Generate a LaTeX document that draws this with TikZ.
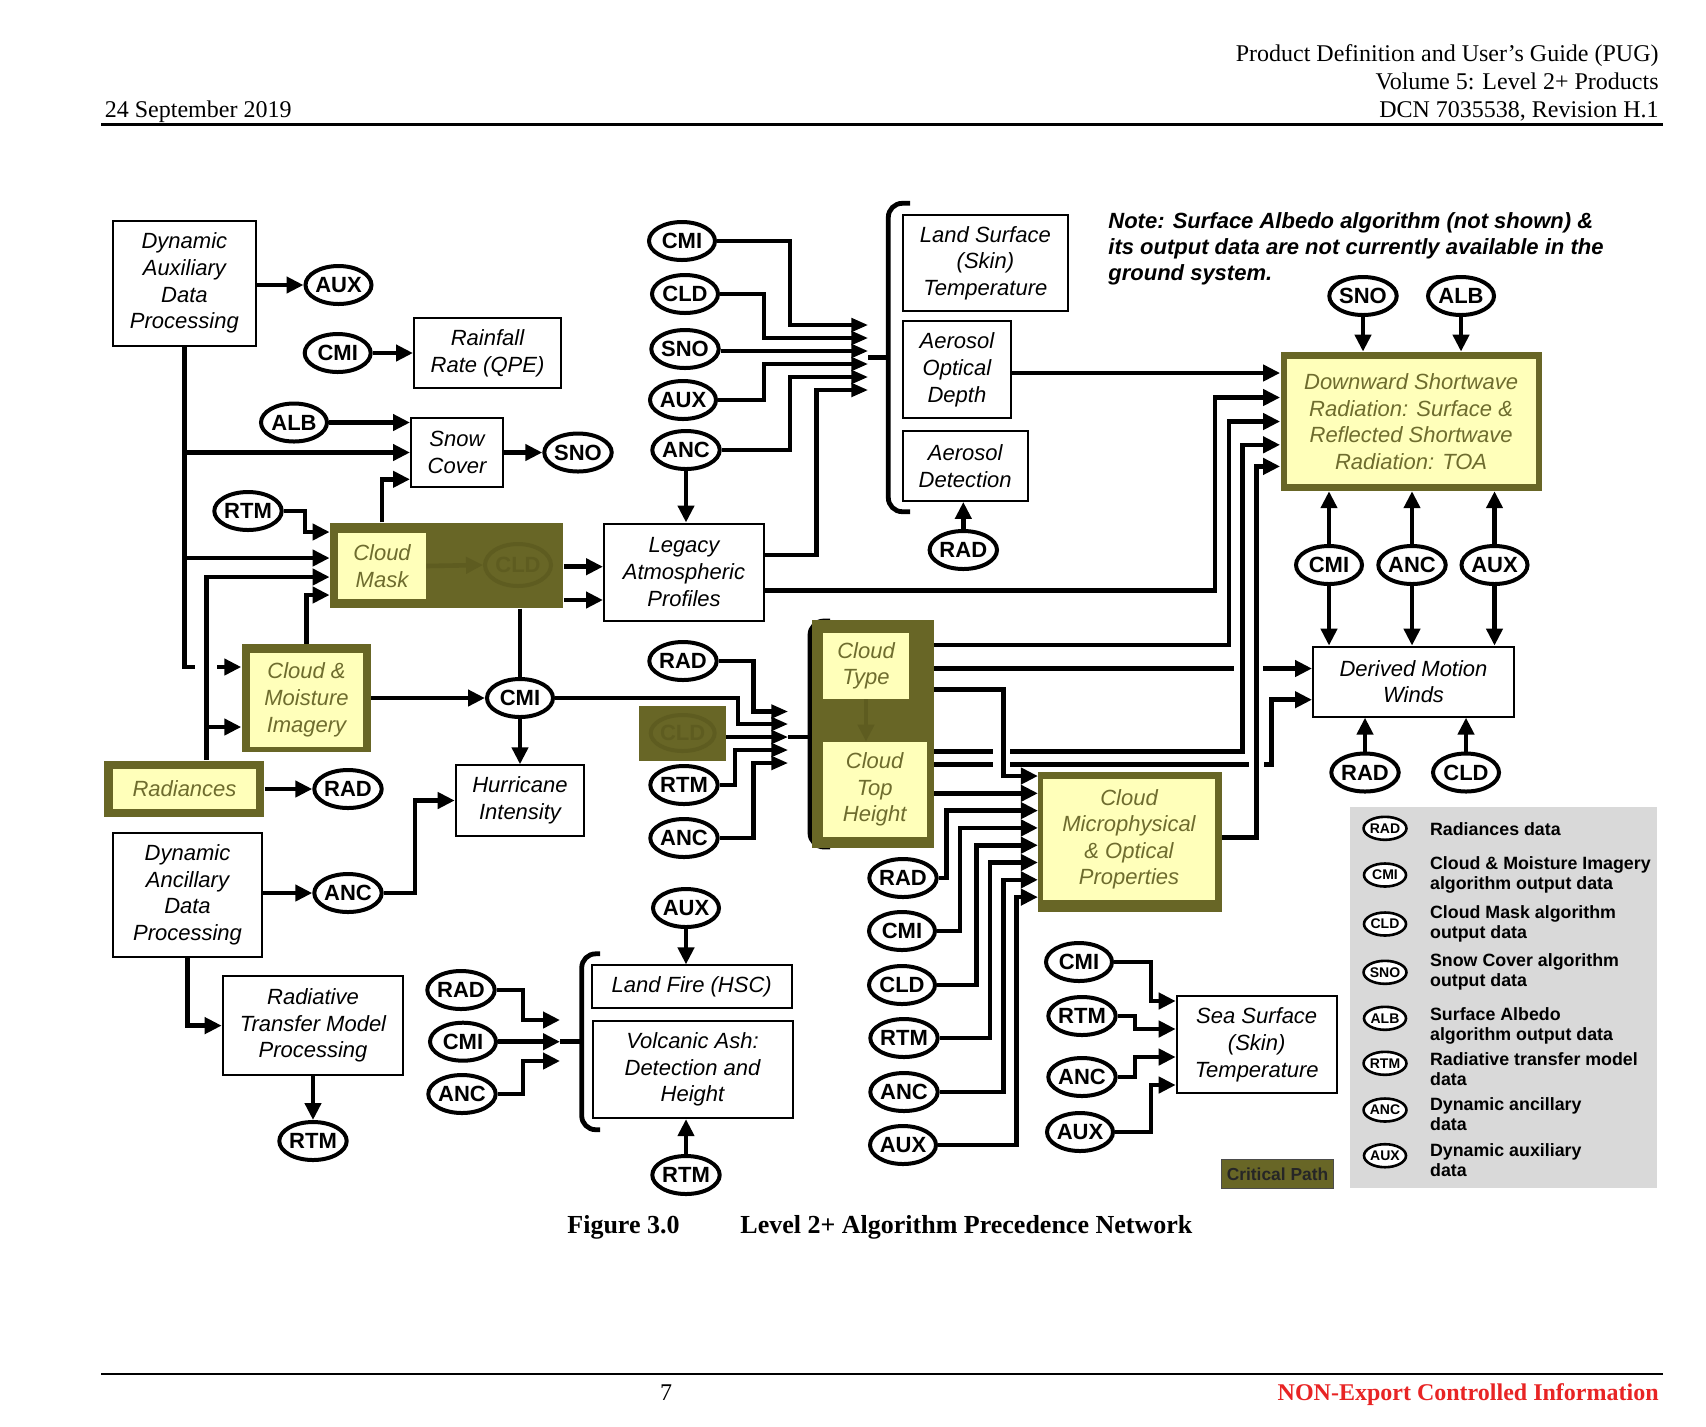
\documentclass[tikz,border=0pt]{standalone}
\usepackage{fontspec}
\setmainfont{Liberation Serif}
\setsansfont{Liberation Sans}
\usetikzlibrary{arrows.meta,positioning,calc,shapes.geometric}
\definecolor{olv}{RGB}{104,102,38}
\definecolor{olvtxt}{RGB}{110,108,46}
\definecolor{pale}{RGB}{255,255,186}
\definecolor{gho}{RGB}{94,92,32}
\definecolor{lgray}{RGB}{217,217,217}
\definecolor{nored}{RGB}{232,36,36}
\newcommand{\bxf}{\fontsize{11}{13.3}\selectfont\sffamily\itshape}
\newcommand{\dtf}{\fontsize{11}{12}\selectfont\sffamily\bfseries}
\newcommand{\lgf}{\fontsize{8.9}{10}\selectfont\sffamily\bfseries}
\tikzset{box/.style={draw,line width=1pt,fill=white,align=center,inner sep=0pt,font=\bxf},
  crit/.style={fill=olv,inner sep=0pt},
  hot/.style={fill=pale,align=center,inner sep=0pt,font=\bxf,text=olvtxt},
  dat/.style={ellipse,draw,line width=2pt,fill=white,inner sep=0pt,minimum width=33pt,minimum height=19pt,font=\dtf},
  ghst/.style={ellipse,draw=gho,text=gho,line width=2pt,inner sep=0pt,font=\dtf},
  ln/.style={line width=2.3pt},
  arr/.style={ln,-{Triangle[length=8.5pt,width=8pt]}},
  arrs/.style={ln,-{Triangle[length=8.5pt,width=6.6pt]}},
  garr/.style={ln,draw=gho,-{Triangle[length=8.5pt,width=8pt]}},
  brk/.style={line width=2.4pt,rounded corners=7pt},
  lgkey/.style={ellipse,draw,line width=1.3pt,fill=white,inner sep=0pt,minimum width=21pt,minimum height=11.5pt,font=\fontsize{7}{7}\selectfont\sffamily\bfseries},
  lgtxt/.style={anchor=west,align=left,inner sep=0pt,font=\lgf},
  hdr/.style={inner sep=0pt,font=\fontsize{12}{14}\selectfont}}
\begin{document}
\begin{tikzpicture}[x=0.5pt,y=-0.5pt]
\useasboundingbox (0,0) rectangle (1706,1426);
\node[hdr,anchor=base east] (h1) at (1659,61){Product Definition and User’s Guide (PUG)};
\node[hdr,anchor=base east] (h2) at (1659,89){Volume 5: Level 2+ Products};
\node[hdr,anchor=base east] (h3) at (1659,117.5){DCN 7035538, Revision H.1};
\node[hdr,anchor=base west] (dt) at (104.5,117.5){24 September 2019};
\draw[line width=1.1pt] (101,124.5) -- (1663,124.5);
\node[box,minimum width=71.5pt,minimum height=62.5pt] (dadp) at (184.4,283){Dynamic\\Auxiliary\\Data\\Processing};
\node[dat] (aux1) at (338.5,285){AUX}; \node[dat] (cmi1) at (337.7,353){CMI};
\node[box,minimum width=73.5pt,minimum height=35.3pt] (rain) at (487.5,353){Rainfall\\Rate (QPE)};
\node[dat] (alb1) at (294,422.5){ALB};
\node[box,minimum width=46pt,minimum height=34.5pt] (snow) at (457,452.5){Snow\\Cover};
\node[dat] (sno1) at (578,452.5){SNO}; \node[dat] (rtm1) at (248,511){RTM};
\node[crit,minimum width=116.7pt,minimum height=42.8pt] (cmask) at (446.7,565.5){};
\node[hot,minimum width=44pt,minimum height=33.3pt] (cmaskin) at (382,566){Cloud\\Mask};
\node[ghst,minimum width=33pt,minimum height=21pt] (gcld1) at (518,565){CLD};
\node[crit,minimum width=64.5pt,minimum height=53.8pt] (cmib) at (306.2,698.2){};
\node[hot,minimum width=56.5pt,minimum height=47pt] (cmibin) at (306.5,699.7){Cloud \&\\Moisture\\Imagery};
\node[dat] (cmi2) at (520,698){CMI};
\node[crit,minimum width=80.2pt,minimum height=28.4pt] (radb) at (184.2,789){};
\node[hot,minimum width=71.5pt,minimum height=20pt] (radbin) at (184.5,789){Radiances};
\node[dat] (rad1) at (348,789){RAD};
\node[box,minimum width=64.3pt,minimum height=35.2pt] (hurr) at (520,800.5){Hurricane\\Intensity};
\node[box,minimum width=74.8pt,minimum height=62pt] (danc) at (187.5,894.6){Dynamic\\Ancillary\\Data\\Processing};
\node[dat] (anc1) at (348,893){ANC};
\node[box,minimum width=90.3pt,minimum height=49.2pt] (rtmp) at (313,1025.6){Radiative\\Transfer Model\\Processing};
\node[dat] (rtm2) at (313,1141){RTM};
\node[dat] (rad2) at (461,990){RAD}; \node[dat] (cmi3) at (463,1041.7){CMI}; \node[dat] (anc2) at (462,1094){ANC};
\node[box,minimum width=100pt,minimum height=21.5pt] (fire) at (691.7,986.9){Land Fire (HSC)};
\node[box,minimum width=100pt,minimum height=48.5pt] (volc) at (692.5,1069.6){Volcanic Ash:\\Detection and\\Height};
\node[dat] (aux3) at (686,908){AUX}; \node[dat] (rtm4) at (686,1175){RTM};
\node[dat] (cmi4) at (682,241){CMI}; \node[dat] (cld1) at (685,294){CLD}; \node[dat] (sno2) at (685,349){SNO};
\node[dat] (aux2) at (683,400){AUX}; \node[dat] (anc3) at (686,450){ANC};
\node[box,minimum width=80pt,minimum height=48.5pt] (legacy) at (684,572){Legacy\\Atmospheric\\Profiles};
\node[box,minimum width=82.5pt,minimum height=48pt] (lst) at (985.4,263){Land Surface\\(Skin)\\Temperature};
\node[box,minimum width=54pt,minimum height=48.5pt] (aod) at (956.9,369.7){Aerosol\\Optical\\Depth};
\node[box,minimum width=62.5pt,minimum height=35pt] (adet) at (965.2,465.9){Aerosol\\Detection};
\node[dat] (rad3) at (963.3,550){RAD};
\node[dat] (rad4) at (683,661){RAD};
\node[crit,minimum width=43.3pt,minimum height=27.5pt] (gbox) at (682.7,733){};
\node[ghst,minimum width=29pt,minimum height=18pt] (gcld2) at (gbox){CLD};
\node[dat] (rtm3) at (684,785){RTM}; \node[dat] (anc4) at (684,838){ANC};
\draw[brk] (830,621) -- (810,621) -- (810,847) -- (830,847);
\node[crit,minimum width=61pt,minimum height=114pt] (ctb) at (873,734){};
\node[hot,minimum width=43.3pt,minimum height=33.2pt] (ctype) at (866,665.8){Cloud\\Type};
\node[hot,minimum width=52pt,minimum height=47.6pt] (cth) at (874.7,789.6){Cloud\\Top\\Height};
\node[crit,minimum width=91.7pt,minimum height=69.7pt] (cmop) at (1130,842){};
\node[hot,minimum width=86pt,minimum height=60.5pt] (cmopin) at (1129,839.3){Cloud\\Microphysical\\\& Optical\\Properties};
\node[dat] (rad5) at (903,878){RAD}; \node[dat] (cmi5) at (902,931){CMI}; \node[dat] (cld2) at (902,985){CLD};
\node[dat] (rtm5) at (904,1038){RTM}; \node[dat] (anc5) at (904,1092){ANC}; \node[dat] (aux4) at (903,1145){AUX};
\node[box,minimum width=80pt,minimum height=48.5pt] (sst) at (1256.7,1044.7){Sea Surface\\(Skin)\\Temperature};
\node[dat] (cmi6) at (1079,962){CMI}; \node[dat] (rtm6) at (1082,1016){RTM};
\node[dat] (anc6) at (1082,1077){ANC}; \node[dat] (aux5) at (1080,1132){AUX};
\node[anchor=north west,align=left,inner sep=0pt,font=\fontsize{11}{13}\selectfont\sffamily\bfseries\itshape] (note) at (1108,212.5){Note: Surface Albedo algorithm (not shown) \&\\its output data are not currently available in the\\ground system.};
\node[dat] (sno3) at (1363,296){SNO}; \node[dat] (alb2) at (1461,296){ALB};
\node[crit,minimum width=130.8pt,minimum height=69.4pt] (dsr) at (1411.3,421.4){};
\node[hot,minimum width=124.6pt,minimum height=62.8pt] (dsrin) at (1411.1,421.5){Downward Shortwave\\Radiation: Surface \&\\Reflected Shortwave\\Radiation: TOA};
\node[dat] (cmi7) at (1329,565){CMI}; \node[dat] (anc7) at (1412,565){ANC}; \node[dat] (aux6) at (1494.5,565){AUX};
\node[box,minimum width=100.5pt,minimum height=35pt] (dmw) at (1413.5,681.6){Derived Motion\\Winds};
\node[dat] (rad6) at (1365,772.5){RAD}; \node[dat] (cld3) at (1466,772.5){CLD};
\node[fill=olv,draw=black!70,line width=0.4pt,minimum width=55.7pt,minimum height=14.5pt,inner sep=0pt,text=black!85,font=\fontsize{8.7}{9}\selectfont\sffamily\bfseries] (crp) at (1277.5,1173.8){Critical Path};
\node[fill=lgray,minimum width=153.6pt,minimum height=190.8pt,inner sep=0pt] (lgd) at (1503.4,997.5){};
\node[lgkey] (k1) at (1385,828.3){RAD}; \node[lgtxt] (t1) at (1429.7,829.3){Radiances data};
\node[lgkey] (k2) at (1385,875){CMI}; \node[lgtxt] (t2) at (1429.7,875.3){Cloud \& Moisture Imagery\\algorithm output data};
\node[lgkey] (k3) at (1385,924){CLD}; \node[lgtxt] (t3) at (1429.7,924){Cloud Mask algorithm\\output data};
\node[lgkey] (k4) at (1385,972.3){SNO}; \node[lgtxt] (t4) at (1429.7,972){Snow Cover algorithm\\output data};
\node[lgkey] (k5) at (1385,1018.3){ALB}; \node[lgtxt] (t5) at (1429.7,1025.7){Surface Albedo\\algorithm output data};
\node[lgkey] (k6) at (1385,1063.3){RTM}; \node[lgtxt] (t6) at (1429.7,1068.7){Radiative transfer model\\data};
\node[lgkey] (k7) at (1385,1110){ANC}; \node[lgtxt] (t7) at (1429.7,1114){Dynamic ancillary\\data};
\node[lgkey] (k8) at (1385,1155.7){AUX}; \node[lgtxt] (t8) at (1429.7,1160){Dynamic auxiliary\\data};
\coordinate (b1) at (888.3,357.5); \coordinate (b1t) at (868.3,357.5);
\coordinate (b2) at (581.7,1041.7); \coordinate (b2t) at (560,1041.7);
\coordinate (b3) at (810,737); \coordinate (b3t) at (788.3,737);
\coordinate (rv) at ([xshift=11pt]radb.north);
\draw[brk] (910,203.3) -- (888.3,203.3) -- (888.3,511.7) -- (910,511.7);
\draw[brk] (600,953.8) -- (581.7,953.8) -- (581.7,1129.7) -- (600,1129.7);
\draw[arr] (dadp.east|-aux1) -- (aux1.west); \draw[arr] (cmi1.east) -- (rain.west|-cmi1);
\draw[arr] (alb1.east) -- (snow.west|-alb1); \draw[arr] (snow.east) -- (sno1.west);
\draw[arr] (dadp.south) |- (195,667) (217,667) -- (cmib.west|-0,667);
\draw[arr] (dadp.south|-snow) -- (snow.west); \draw[arr] (dadp.south|-0,558) -- (cmask.west|-0,558);
\draw[arr] (rtm1.east) -| (305,532) -- (cmask.west|-0,532);
\draw[arr] (rv) |- (cmask.west|-0,577); \draw[arr] (rv|-0,727) -- (cmib.west|-0,727);
\draw[arr] (cmib.north) |- (cmask.west|-0,595);
\draw[arr] (cmaskin.north|-cmask.north) |- (snow.west|-0,479.3);
\draw[garr] (cmaskin.east) -- (gcld1.west);
\draw[arr] (cmask.east|-0,566.7) -- (legacy.west|-0,566.7); \draw[arr] (cmask.east|-0,600) -- (legacy.west|-0,600);
\draw[ln] (cmask.south-|cmi2) -- (cmi2.north);
\draw[arr] (cmib.east|-cmi2) -- (cmi2.west); \draw[arr] (cmi2.south) -- (hurr.north);
\draw[arr] (radb.east) -- (rad1.west); \draw[arr] (danc.east|-anc1) -- (anc1.west);
\draw[arr] (anc1.east) -| (415,800.5) -- (hurr.west);
\draw[arr] (danc.south) |- (rtmp.west); \draw[arr] (rtmp.south) -- (rtm2.north);
\draw[arr] (rad2.east) -| (523,1020) -- (b2t|-0,1020); \draw[arr] (cmi3.east) -- (b2t);
\draw[arr] (anc2.east) -| (523,1061) -- (b2t|-0,1061); \draw[ln] (b2t) -- (b2);
\draw[arr] (aux3.south) -- (aux3|-fire.north); \draw[arr] (rtm4.north) -- (rtm4|-volc.south);
\draw[arrs] (cmi4.east) -| (790,325) -- (b1t|-0,325); \draw[arrs] (cld1.east) -| (764,338) -- (b1t|-0,338);
\draw[arrs] (sno2.east|-0,351) -- (b1t|-0,351); \draw[arrs] (aux2.east) -| (764,364) -- (b1t|-0,364);
\draw[arrs] (anc3.east) -| (790,377) -- (b1t|-0,377); \draw[arrs] (legacy.east|-0,555) -| (816.7,390) -- (b1t|-0,390);
\draw[ln] (b1t) -- (b1);
\draw[arr] (anc3.south) -- (anc3|-legacy.north); \draw[arr] (rad3.north) -- (rad3|-adet.south);
\draw[arrs] (rad4.east) -| (753.3,711.5) -- (b3t|-0,711.5); \draw[arrs] (cmi2.east) -| (738,724) -- (b3t|-0,724);
\draw[arrs] (gbox.east|-b3t) -- (b3t); \draw[arrs] (rtm3.east) -| (735,750) -- (b3t|-0,750);
\draw[arrs] (anc4.east) -| (753.3,763) -- (b3t|-0,763); \draw[ln] (b3t) -- (b3);
\draw[garr] (ctype.south) -- (ctype.south|-cth.north);
\draw[arr] (aod.east|-0,373) -- (dsr.west|-0,373);
\draw[arr] (legacy.east|-0,590.7) -| (1215,397.5) -- (dsr.west|-0,397.5);
\draw[arr] (ctb.east|-0,645) -| (1229,421.5) -- (dsr.west|-0,421.5);
\draw[arr] (ctb.east|-0,751.5) -- (993,751.5) (1010,751.5) -| (1242.5,444.8) -- (dsr.west|-0,444.8);
\draw[arr] (cmop.east|-0,837.6) -| (1256.7,466.4) -- (dsr.west|-0,466.4);
\draw[arr] (ctb.east|-0,668.5) -- (1234,668.5) (1263,668.5) -- (dmw.west|-0,668.5);
\draw[arr] (ctb.east|-0,764.4) -- (993,764.4) (1010,764.4) -- (1249,764.4) (1264,764.4) -| (1271.7,699.7) -- (dmw.west|-0,699.7);
\draw[arr] (ctb.east|-0,689.7) -| (1003.3,776) -- (cmop.west|-0,776);
\draw[arr] (ctb.east|-0,793.3) -- (cmop.west|-0,793.3);
\draw[arr] (rad5.east) -| (946.7,810.6) -- (cmop.west|-0,810.6);
\draw[arr] (cmi5.east) -| (960,827.9) -- (cmop.west|-0,827.9);
\draw[arr] (cld2.east) -| (976.7,845.2) -- (cmop.west|-0,845.2);
\draw[arr] (rtm5.east) -| (990,862.5) -- (cmop.west|-0,862.5);
\draw[arr] (anc5.east) -| (1003.3,879.8) -- (cmop.west|-0,879.8);
\draw[arr] (aux4.east) -| (1016.7,897.1) -- (cmop.west|-0,897.1);
\draw[arr] (cmi6.east) -| (1151,1001) -- (sst.west|-0,1001); \draw[arr] (rtm6.east) -| (1135,1029) -- (sst.west|-0,1029);
\draw[arr] (anc6.east) -| (1135,1057) -- (sst.west|-0,1057); \draw[arr] (aux5.east) -| (1151,1085) -- (sst.west|-0,1085);
\draw[arr] (sno3.south) -- (sno3|-dsr.north); \draw[arr] (alb2.south) -- (alb2|-dsr.north);
\draw[arr] (cmi7.north) -- (cmi7|-dsr.south); \draw[arr] (cmi7.south) -- (cmi7|-dmw.north);
\draw[arr] (anc7.north) -- (anc7|-dsr.south); \draw[arr] (anc7.south) -- (anc7|-dmw.north);
\draw[arr] (aux6.north) -- (aux6|-dsr.south); \draw[arr] (aux6.south) -- (aux6|-dmw.north);
\draw[arr] (rad6.north) -- (rad6|-dmw.south); \draw[arr] (cld3.north) -- (cld3|-dmw.south);
\node[anchor=base west,inner sep=0pt,font=\fontsize{13}{15}\selectfont\bfseries] (fg) at (567,1233){Figure 3.0};
\node[anchor=base west,inner sep=0pt,font=\fontsize{13}{15}\selectfont\bfseries] (cap) at (740,1233){Level 2+ Algorithm Precedence Network};
\draw[line width=1.1pt] (101,1374) -- (1663,1374);
\node[hdr,anchor=base] (pg) at (666,1400){7};
\node[hdr,anchor=base east,text=nored,font=\fontsize{12}{14}\selectfont\bfseries] (ne) at (1659,1400){NON-Export Controlled Information};
\end{tikzpicture}
\end{document}
